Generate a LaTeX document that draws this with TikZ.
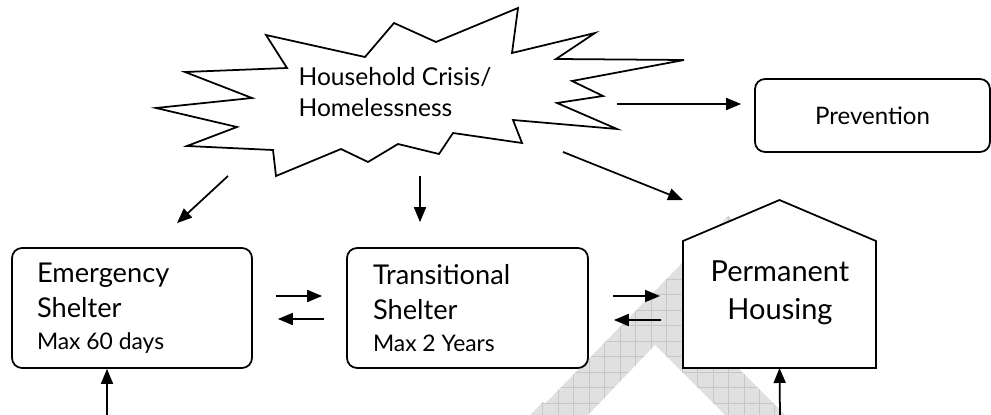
\documentclass[tikz,border=0pt]{standalone}
\usepackage{fontspec}
\setmainfont{Lato}
\usetikzlibrary{arrows.meta, calc, positioning}
\tikzset{> = { Triangle[length = 0.3cm, width = 0.24cm] }}
\tikzset{
	box/.style = {draw, rounded corners = 0.2cm, line width = 1pt, align = flush left},
	flow/.style = {->, line width = 1pt},
	burst/.style = {draw, fill = white, line width = 1pt, line join = miter},
	wmark/.style = {fill = black!12},
	wgrid/.style = {draw = black!22, line width = 0.4pt}
}
\begin{document}
\begin{tikzpicture}[x = 0.02cm, y = -0.02cm]
		\useasboundingbox (0, 0) rectangle (991, 415);
		% watermark
		\begin{scope}
			\clip (534, 415) -- (728, 216) -- (760, 248) -- (738, 368) -- (785, 415) -- (725, 415) -- (655, 345) -- (588, 415) -- cycle
				(530, 415) -- (543, 402) -- (556, 415) -- cycle;
			\fill [wmark] (500, 200) rectangle (800, 415);
			\draw [wgrid, step = 0.31cm] (500, 200) grid (800, 415);
		\end{scope}

		\draw [burst] (156, 108) -- (252, 98) -- (185, 72) -- (287, 68) -- (266, 35) -- (365, 57) -- (394, 23) -- (436, 42) -- (518, 8) -- (512, 53) -- (595, 33) -- (556, 59) -- (684, 60) -- (572, 81) -- (603, 96) -- (557, 103) -- (617, 129) -- (513, 120) -- (522, 143) -- (453, 133) -- (439, 154) -- (398, 144) -- (368, 162) -- (341, 149) -- (276, 176) -- (273, 150) -- (187, 146) -- (237, 127) -- cycle;
		\node [align = left, font = \fontsize{14}{18}\selectfont] (crisis) at (395, 92) {Household Crisis/\\Homelessness};

		\node [box, align = center, minimum width = 4.7cm, minimum height = 1.46cm, font = \fontsize{13.7}{17}\selectfont] (prev) at (872.5, 115.5) {Prevention};
		\node [box, text width = 3.8cm, inner xsep = 0.5cm, minimum height = 2.4cm, font = \fontsize{15.5}{20}\selectfont] (em) at (132, 308) {Emergency\\Shelter\\[-2pt]{\fontsize{13}{16}\selectfont Max 60 days}};
		\node [box, text width = 3.78cm, inner xsep = 0.52cm, minimum height = 2.4cm, font = \fontsize{15.5}{20}\selectfont] (tr) at (467.5, 308) {Transitional\\Shelter\\[-2pt]{\fontsize{13}{16}\selectfont Max 2 Years}};

		\node [minimum width = 3.86cm, minimum height = 2.54cm, outer sep = 0] (ph) at (779.5, 304.5) {};
		\draw [line width = 1pt, fill = white] (ph.south west) -- (ph.north west) -- ($(ph.north) + (0, -41)$) -- (ph.north east) -- (ph.south east) -- cycle;
		\node [align = center, font = \fontsize{16.5}{21.6}\selectfont] (phtext) at (780, 293) {Permanent\\Housing};

		\coordinate (s1) at (228, 176);
		\coordinate (s2) at (420, 176);
		\coordinate (s3) at (563, 152);
		\coordinate (s4) at (617, 104);
		\draw [flow] (s1) -- ($(em.north) + (45, -24)$);
		\draw [flow] (s2) -- ($(tr.north) + (-47.5, -25)$);
		\draw [flow] (s3) -- ($(ph.north west) + (0, -41)$);
		\draw [flow] (s4) -- ($(prev.west) + (-13, -11.5)$);

		\draw [flow] ($(em.east) + (23, -12)$) -- ($(tr.west) + (-24, -12)$);
		\draw [flow] ($(tr.west) + (-22, 11)$) -- ($(em.east) + (25, 11)$);
		\draw [flow] ($(tr.east) + (24, -12)$) -- ($(ph.west) + (-23, -8.5)$);
		\draw [flow] ($(ph.west) + (-22, 15.5)$) -- ($(tr.east) + (25, 12)$);

		\coordinate (b1) at (107, 415);
		\coordinate (b2) at (780, 415);
		\draw [flow] (b1) -- ($(em.south) + (-25, 0)$);
		\draw [flow] (b2) -- (ph.south);
	\end{tikzpicture}
\end{document}
